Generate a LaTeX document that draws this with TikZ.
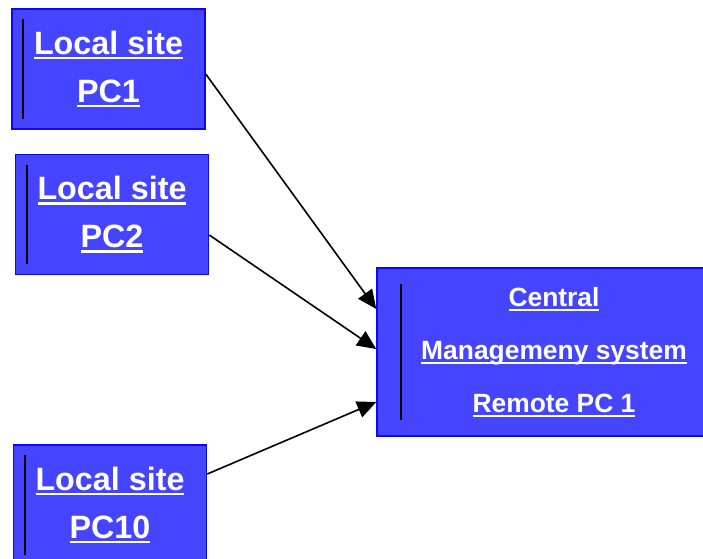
\documentclass[tikz,border=0pt]{standalone}
\usepackage{fontspec}
\setmainfont{Liberation Sans}
\usetikzlibrary{positioning}
\usetikzlibrary{arrows.meta}

\definecolor{sitefill}{HTML}{4545FF}
\definecolor{siteedge}{HTML}{0A0AF0}

\newcommand{\ulword}[1]{\setbox0\hbox{#1}\rlap{\copy0}\rule[-5pt]{\wd0}{2.5pt}}

\begin{document}
\begin{tikzpicture}
    [x=1pt,y=-1pt,
     every node/.style={draw=siteedge,fill=sitefill,line width=1.5pt,text=white,align=center}]

    \tikzstyle{local}   = [minimum width=193pt,minimum height=120pt,font=\bfseries\fontsize{32.3}{48}\selectfont]
    \tikzstyle{central} = [minimum width=354pt,minimum height=168pt,font=\bfseries\fontsize{26.4}{53}\selectfont]
    \tikzstyle{bar}     = [draw=black,line width=2pt]
    \tikzstyle{link}    = [-{Triangle[length=19pt,width=17pt]},line width=1.6pt]

    \useasboundingbox (0,0) rectangle (703,558);

    \node [local] (pc1) at (108.5,69) {\ulword{Local site}\\\ulword{PC1}} ;
    \node [local,below=24pt of pc1,xshift=3.5pt] (pc2) {\ulword{Local site}\\\ulword{PC2}} ;
    \node [local,below=169pt of pc2,xshift=-2pt] (pc10) {\ulword{Local site}\\\ulword{PC10}} ;

    \node [central] (cms) at (554,352)
          {\ulword{Central}\\\ulword{Managemeny system}\\\ulword{Remote PC 1}} ;

    \draw [bar] ([xshift=12pt,yshift=-11pt]pc1.north west) -- ([xshift=12pt,yshift=11pt]pc1.south west) ;
    \draw [bar] ([xshift=12pt,yshift=-11pt]pc2.north west) -- ([xshift=12pt,yshift=11pt]pc2.south west) ;
    \draw [bar] ([xshift=12pt,yshift=-11pt]pc10.north west) -- ([xshift=12pt,yshift=11pt]pc10.south west) ;
    \draw [bar] ([xshift=25pt,yshift=-17pt]cms.north west) -- ([xshift=25pt,yshift=17pt]cms.south west) ;

    \draw [link] ([yshift=-5pt]pc1.east) -- ([yshift=43pt]cms.west) ;
    \draw [link] ([yshift=-20.5pt]pc2.east) -- ([yshift=3pt]cms.west) ;
    \draw [link] ([yshift=31pt]pc10.east) -- ([yshift=-50pt]cms.west) ;
  \end{tikzpicture}
\end{document}
